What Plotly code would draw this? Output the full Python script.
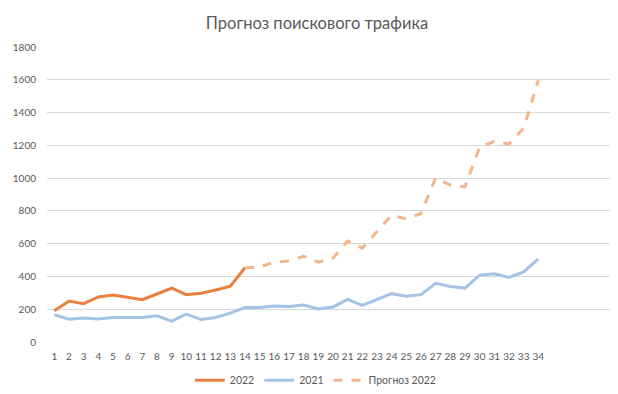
import plotly.graph_objects as go

weeks_2022 = list(range(1, 15))
values_2022 = [190, 250, 234, 275, 287, 273, 258, 293, 329, 289, 297, 317, 341, 453]

weeks_2021 = list(range(1, 35))
values_2021 = [166, 139, 147, 141, 149, 150, 150, 160, 127, 170, 137, 150, 176, 210,
               210, 220, 216, 226, 202, 214, 260, 224, 260, 295, 279, 289, 358, 339,
               329, 408, 416, 394, 428, 507]

weeks_forecast = list(range(14, 35))
values_forecast = [453, 457, 487, 495, 523, 487, 511, 616, 573, 675, 774, 751, 784,
                   1002, 957, 947, 1190, 1224, 1208, 1305, 1597]

x_ticks = list(range(1, 35))
y_ticks = list(range(0, 2000, 200))

font_family = "Lato, 'Open Sans', sans-serif"
grey = "#595959"

fig = go.Figure()
fig.add_trace(go.Scatter(x=weeks_2022, y=values_2022, mode="lines", name="2022",
                         line=dict(color="#E8803F", width=3)))
fig.add_trace(go.Scatter(x=weeks_2021, y=values_2021, mode="lines", name="2021",
                         line=dict(color="#A5C3E6", width=3)))
fig.add_trace(go.Scatter(x=weeks_forecast, y=values_forecast, mode="lines", name="Прогноз 2022",
                         line=dict(color="#F2B58C", width=3, dash="dash")))

fig.update_layout(
    width=618, height=394,
    margin=dict(l=39, r=7, t=39, b=52),
    paper_bgcolor="white", plot_bgcolor="white",
    font=dict(family=font_family, color=grey, size=10),
    title=dict(text="Прогноз поискового трафика", x=0.5, xanchor="center",
               y=0.962, yanchor="middle", font=dict(size=16.5, color=grey, family=font_family)),
    showlegend=True,
    legend=dict(orientation="h", x=0.47, xanchor="center",
                y=-0.13, yanchor="middle",
                font=dict(size=10.5, color=grey), traceorder="normal"),
)
fig.update_xaxes(range=[0.5, 39.5], tickmode="array", tickvals=x_ticks,
                 ticktext=[str(t) for t in x_ticks], showgrid=False, zeroline=False,
                 showline=False, ticks="", automargin=False, ticklabelstandoff=7,
                 tickfont=dict(size=10, color=grey))
fig.update_yaxes(range=[0, 1800], tickmode="array", tickvals=y_ticks,
                 showgrid=True, gridcolor="#D9D9D9", gridwidth=1, zeroline=False,
                 showline=False, ticks="", ticklabelstandoff=10, automargin=False,
                 tickfont=dict(size=10, color=grey))

fig.write_html("out.html")
